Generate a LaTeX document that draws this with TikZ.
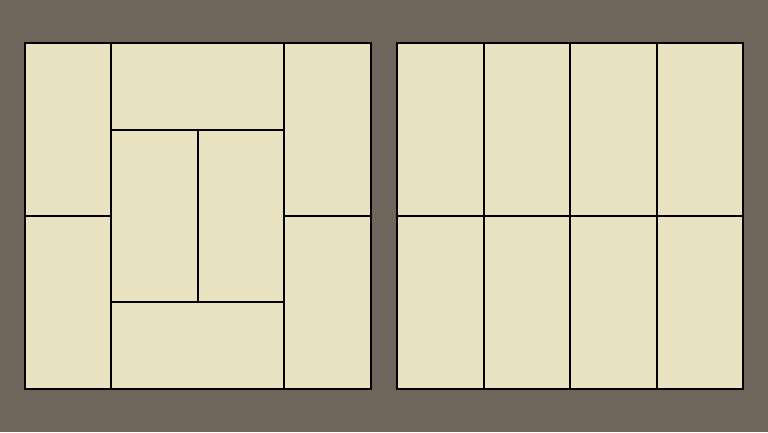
\documentclass[tikz,border=0pt]{standalone}
\definecolor{bg}{HTML}{6E665B}
\definecolor{mat}{HTML}{E9E2C0}
\begin{document}
\begin{tikzpicture}[x=1pt,y=-1pt,mat/.style={fill=mat,draw=black,line width=1.5pt,line join=miter}]
\fill[bg] (0,0) rectangle (768,432);
\useasboundingbox (0,0) rectangle (768,432);
% left square
\draw[mat] (25,43) rectangle (111,216);
\draw[mat] (25,216) rectangle (111,389);
\draw[mat] (111,43) rectangle (284,130);
\draw[mat] (111,130) rectangle (198,302);
\draw[mat] (198,130) rectangle (284,302);
\draw[mat] (111,302) rectangle (284,389);
\draw[mat] (284,43) rectangle (371,216);
\draw[mat] (284,216) rectangle (371,389);
% right square
\foreach \a/\b in {397/484,484/570,570/657,657/743}{
  \draw[mat] (\a,43) rectangle (\b,216);
  \draw[mat] (\a,216) rectangle (\b,389);
}
\end{tikzpicture}
\end{document}
